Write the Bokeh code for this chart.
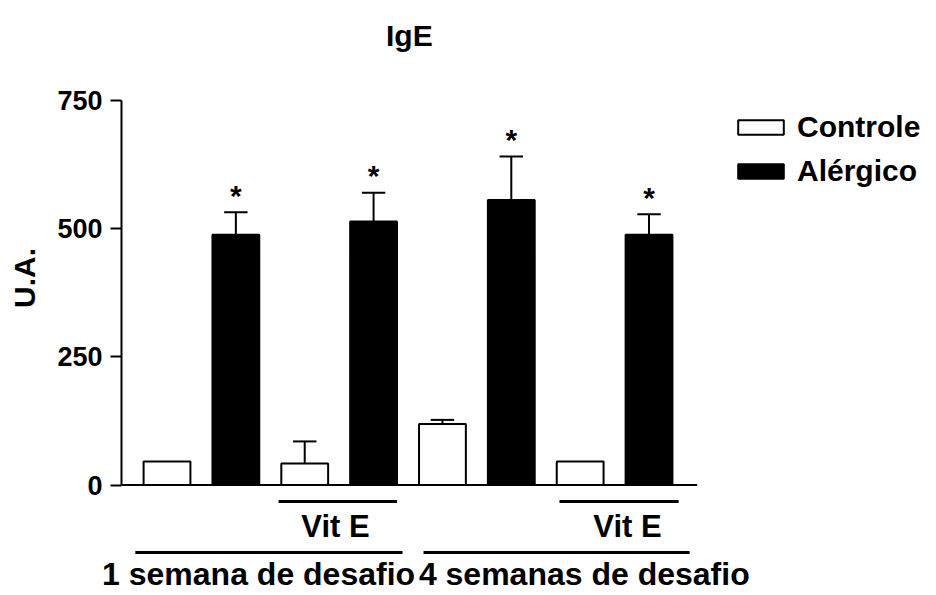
from bokeh.plotting import figure
from bokeh.models import ColumnDataSource, LinearAxis, Range1d, FixedTicker
from bokeh.core.properties import value
from bokeh.embed import file_html
from bokeh.resources import INLINE

# IgE levels (U.A.), mean and SEM for each group
condition = ["Controle", "Alérgico", "Controle", "Alérgico",
             "Controle", "Alérgico", "Controle", "Alérgico"]
igE_mean = [46, 488, 42, 514, 119, 556, 46, 488]
igE_sem = [0, 44, 43, 56, 8, 85, 0, 40]
significance = ["", "*", "", "*", "", "*", "", "*"]

y_ticks = [0, 250, 500, 750]

# treatment brackets: (label, first bar, last bar)
vit_e_groups = [("Vit E", 2, 3), ("Vit E", 6, 7)]
challenge_groups = [("1 semana de desafio", 0, 3), ("4 semanas de desafio", 4, 7)]

FONT = "Liberation Sans"
BAR_W = 0.68
CAP_HALF = 0.17
fill_for = {"Controle": "white", "Alérgico": "black"}

# canvas geometry
W, H = 936, 595
LEFT = 121                       # frame left edge (y axis position)
BOTTOM = 40                      # space under the frame for the period labels
FB = H - BOTTOM                  # frame bottom row
PX_X = 68.86                     # pixels per bar slot
PX_Y = 384.5 / 750               # pixels per U.A.
BASE_PX = 484.5                  # screen row of y = 0
X0_PX = 166.5                    # screen column of the first bar
X_START = -(X0_PX - LEFT) / PX_X
X_END = X_START + (W - LEFT) / PX_X
Y_END = BASE_PX / PX_Y
Y_START = -(FB - BASE_PX) / PX_Y
AXIS_X_END = 7.70


def row(px):
    """Data y for a screen row given in pixels from the canvas top."""
    return (BASE_PX - px) / PX_Y


def col(px):
    """Data x for a screen column given in pixels from the canvas left."""
    return (px - X0_PX) / PX_X


xs = list(range(len(igE_mean)))
src = ColumnDataSource(dict(
    x=xs, mean=igE_mean, sem=igE_sem, cond=condition,
    fill=[fill_for[c] for c in condition],
    upper=[m + s for m, s in zip(igE_mean, igE_sem)],
    star=significance,
))

p = figure(width=W, height=H, output_backend="svg", toolbar_location=None,
           x_range=Range1d(X_START, X_END), y_range=Range1d(Y_START, Y_END),
           x_axis_type=None, y_axis_type=None,
           min_border_left=LEFT, min_border_right=0,
           min_border_top=0, min_border_bottom=BOTTOM)
p.outline_line_color = None
p.background_fill_color = "white"

# y axis limited to the data span
yax = LinearAxis(bounds=(0, 750), ticker=FixedTicker(ticks=y_ticks),
                 axis_label="U.A.")
yax.axis_line_width = 2
yax.axis_line_color = "black"
yax.major_tick_line_width = 2
yax.major_tick_line_color = "black"
yax.major_tick_out = 11
yax.major_tick_in = 0
yax.minor_tick_out = 0
yax.minor_tick_in = 0
yax.major_label_standoff = 8
yax.major_label_text_color = "black"
yax.major_label_text_font = FONT
yax.major_label_text_font_style = "bold"
yax.major_label_text_font_size = "27px"
yax.axis_label_text_color = "black"
yax.axis_label_text_font = FONT
yax.axis_label_text_font_style = "bold"
yax.axis_label_text_font_size = "30px"
yax.axis_label_standoff = 13
p.add_layout(yax, "left")

# challenge-period names as labels of an axis under the frame
chal_label_px = [258, 584]
chal_ticks = [round(col(px), 2) for px in chal_label_px]
xax = LinearAxis(ticker=FixedTicker(ticks=chal_ticks),
                 major_label_overrides={t: g[0] for t, g in zip(chal_ticks, challenge_groups)})
xax.axis_line_color = None
xax.major_tick_line_color = None
xax.minor_tick_line_color = None
xax.major_tick_out = 0
xax.major_tick_in = 0
xax.major_label_standoff = 0
xax.major_label_text_color = "black"
xax.major_label_text_font = FONT
xax.major_label_text_font_style = "bold"
xax.major_label_text_font_size = "32px"
p.add_layout(xax, "below")

# x baseline
p.segment(x0=[X_START], x1=[AXIS_X_END], y0=[0], y1=[0],
          line_color="black", line_width=2)

# error bars (upper only)
err_x = [x for x, s in zip(xs, igE_sem) if s > 0]
err_lo = [m for m, s in zip(igE_mean, igE_sem) if s > 0]
err_hi = [m + s for m, s in zip(igE_mean, igE_sem) if s > 0]
p.segment(x0=err_x, x1=err_x, y0=err_lo, y1=err_hi,
          line_color="black", line_width=2)
p.segment(x0=[x - CAP_HALF for x in err_x], x1=[x + CAP_HALF for x in err_x],
          y0=err_hi, y1=err_hi, line_color="black", line_width=2)

# bars
p.vbar(x="x", top="mean", width=BAR_W, source=src, fill_color="fill",
       line_color="black", line_width=2, legend_field="cond")

# significance markers
p.text(x="x", y="upper", text="star", source=src, text_font=value(FONT),
       text_font_style="bold", text_font_size="30px", text_align="center",
       text_baseline="alphabetic", y_offset=-17, text_color="black")

# bracket padding beyond the outer bar edges (bar units)
vit_pad = [(0.04, 0.0), (-0.04, 0.09)]
vit_label_px = [335, 627]
chal_pad = [(0.12, 0.08), (-0.065, 0.25)]

for (label, a, b), (pl, pr), lx in zip(vit_e_groups, vit_pad, vit_label_px):
    p.segment(x0=[a - BAR_W / 2 - pl], x1=[b + BAR_W / 2 + pr],
              y0=[row(501)], y1=[row(501)], line_color="black", line_width=3)
    p.text(x=[col(lx)], y=[row(526)], text=[label], text_font=value(FONT),
           text_font_style="bold", text_font_size="31px", text_color="black",
           text_align="center", text_baseline="middle")

for (label, a, b), (pl, pr) in zip(challenge_groups, chal_pad):
    p.segment(x0=[a - BAR_W / 2 - pl], x1=[b + BAR_W / 2 + pr],
              y0=[row(552)], y1=[row(552)], line_color="black", line_width=3)

# title
p.text(x=[(X_START + AXIS_X_END) / 2], y=[row(35)], text=["IgE"],
       text_font=value(FONT), text_font_style="bold", text_font_size="30px",
       text_color="black", text_align="center", text_baseline="middle")

# legend
leg = p.legend[0]
leg.location = (611, FB - 109 - 80)
leg.glyph_width = 57
leg.glyph_height = 18
leg.label_standoff = 8
leg.label_height = 36
leg.spacing = 8
leg.padding = 0
leg.margin = 0
leg.border_line_color = None
leg.background_fill_alpha = 0
leg.label_text_color = "black"
leg.label_text_font = FONT
leg.label_text_font_style = "bold"
leg.label_text_font_size = "30px"

open("out.html", "w").write(file_html(p, INLINE))
